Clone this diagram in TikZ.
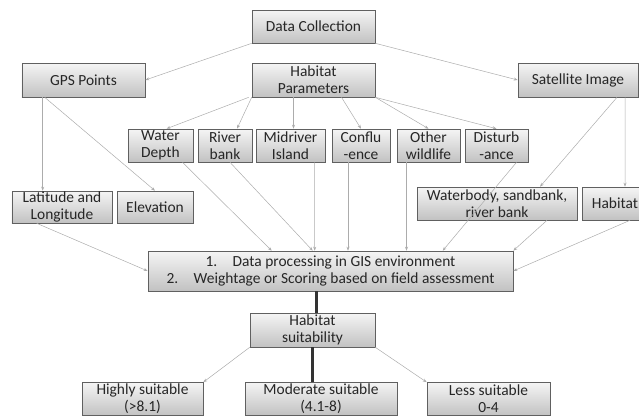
\documentclass[tikz,border=0pt]{standalone}
\usepackage{fontspec}
\setmainfont{Carlito}
\usepackage{tikz}
\usetikzlibrary{arrows.meta,positioning}

\begin{document}
\begin{tikzpicture}[
    x=1bp, y=-1bp,
    block/.style={rectangle, draw=gray!75!black, line width=0.6bp, top color=gray!8, bottom color=gray!48, minimum height=33bp, inner sep=0bp, align=center, text=black!85, font=\fontsize{15.5}{17}\selectfont},
    link/.style={-{Stealth[length=4bp,width=3bp]}, draw=gray!65, line width=0.5bp},
    mainlink/.style={line width=2.2bp, draw=black!80},
]
    \useasboundingbox (0,0) rectangle (639,416);

    % top level
    \node[block, minimum width=123bp] (datacol) at (313.5,26.5) {Data Collection};
    \node[block, minimum width=123bp, minimum height=34bp] (gps) at (83.5,80) {GPS Points};
    \node[block, minimum width=123bp, minimum height=34bp] (habpar) at (313.5,80) {Habitat\\Parameters};
    \node[block, minimum width=120bp, minimum height=34bp] (sat) at (578,80) {Satellite Image};

    % habitat parameters
    \node[block, minimum width=65bp] (water) at (160.5,145.5) {Water\\Depth};
    \node[block, minimum width=54bp] (riverbank) at (225,145.5) {River\\bank};
    \node[block, minimum width=69bp] (midriver) at (290.5,145.5) {Midriver\\Island};
    \node[block, minimum width=58bp] (conflu) at (361,145.5) {Conflu\\-ence};
    \node[block, minimum width=63bp] (otherwl) at (428.5,145.5) {Other\\wildlife};
    \node[block, minimum width=63bp] (disturb) at (496.5,145.5) {Disturb\\-ance};

    % gps and satellite outputs
    \node[block, minimum width=100bp, minimum height=32bp] (latlong) at (62,207) {Latitude and\\Longitude};
    \node[block, minimum width=76bp, minimum height=32bp] (elev) at (155,207) {Elevation};
    \node[block, minimum width=160bp] (waterbody) at (497,203.5) {Waterbody, sandbank,\\river bank};
    \node[block, minimum width=66bp] (habitat) at (615,203.5) {Habitat};

    % processing and result
    \node[block, minimum width=365bp, minimum height=40bp] (dataproc) at (330.5,271) {1.\hspace{1em}Data processing in GIS environment\\2.\hspace{1em}Weightage or Scoring based on field assessment};
    \node[block, minimum width=125bp, minimum height=34bp] (habsuit) at (312.5,330) {Habitat\\suitability};
    \node[block, minimum width=121bp] (highly) at (142.5,399) {Highly suitable\\(>8.1)};
    \node[block, minimum width=152bp] (moderate) at (321,398.5) {Moderate suitable\\(4.1-8)};
    \node[block, minimum width=123bp] (less) at (488.5,399) {Less suitable\\0-4};

    \draw[link] (datacol.south west) -- (gps.east);
    \draw[link] (datacol.south east) -- (sat.west);

    \draw[link] ([xshift=21bp]gps.south west) -- ([xshift=21bp]gps.south west |- latlong.north);
    \draw[link] ([xshift=23bp]gps.south west) -- (elev.north);

    \draw[link] ([xshift=-3bp]habpar.south west) -- ([xshift=6bp]water.north);
    \draw[link] (habpar.south west) -- ([xshift=12bp]riverbank.north);
    \draw[link] ([xshift=3bp]midriver.north |- habpar.south) -- ([xshift=3bp]midriver.north);
    \draw[link] ([xshift=28bp]habpar.south) -- (conflu.north);
    \draw[link] (habpar.south east) -- (otherwl.north);
    \draw[link] (habpar.south east) -- (disturb.north);

    \draw[link] ([xshift=39bp]sat.south) -- ([xshift=43bp]waterbody.north);
    \draw[link] ([xshift=47bp]sat.south) -- ([xshift=10bp]habitat.north);

    \draw[link] ([xshift=22bp]water.south) -- ([xshift=124bp]dataproc.north west);
    \draw[link] ([xshift=5bp]riverbank.south) -- ([xshift=165bp]dataproc.north west);
    \draw[link] ([xshift=24bp]midriver.south) -- ([xshift=167bp]dataproc.north west);
    \draw[link] ([xshift=-13bp]conflu.south) -- ([xshift=-13bp]conflu.south |- dataproc.north);
    \draw[link] ([xshift=-22bp]otherwl.south) -- ([xshift=-22bp]otherwl.south |- dataproc.north);
    \draw[link] ([xshift=20bp]disturb.south) -- ([xshift=295bp]dataproc.north west);
    \draw[link] ([xshift=50bp]waterbody.south) -- (dataproc.north east);
    \draw[link] ([xshift=25bp]latlong.south west) -- (dataproc.west);
    \draw[link] ([xshift=15bp]habitat.south) -- (dataproc.east);

    \draw[mainlink] ([xshift=4bp]habsuit.north |- dataproc.south) -- ([xshift=4bp]habsuit.north);
    \draw[mainlink] (habsuit.south) -- (habsuit.south |- moderate.north);
    \draw[link] (habsuit.south west) -- (highly.north east);
    \draw[link] (habsuit.south east) -- (less.north west);
\end{tikzpicture}
\end{document}
